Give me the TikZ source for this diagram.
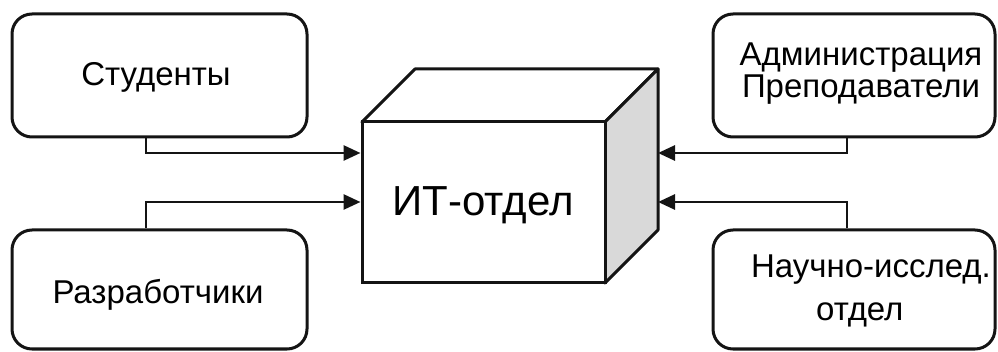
\documentclass[tikz,border=0pt]{standalone}
\usepackage{fontspec}
\setmainfont{Liberation Sans}
\usetikzlibrary{arrows.meta}
\definecolor{facegray}{RGB}{217,217,217}
\definecolor{ink}{RGB}{20,20,20}
\begin{document}
\begin{tikzpicture}[x=1pt,y=-1pt,
  outerbox/.style={draw=ink, line width=3pt, rounded corners=20pt, fill=white, inner sep=0pt},
  boxtext/.style={font=\fontsize{33}{32}\selectfont, inner sep=0pt},
  cubeline/.style={draw=ink, line width=3pt, line join=round},
  conn/.style={draw=ink, line width=2.8pt, -{Triangle[length=17pt,width=15pt]}}]
\useasboundingbox (0,0) rectangle (998,352);
\fill[white] (0,0) rectangle (998,352);
% outer boxes
\node[outerbox, minimum width=295pt, minimum height=123pt] (stud) at (159.5,75.5) {};
\node[boxtext] (studt) at (156,77) {Студенты};
\node[outerbox, minimum width=295pt, minimum height=119pt] (razr) at (159.5,289.5) {};
\node[boxtext] (razrt) at (158,295) {Разработчики};
\node[outerbox, minimum width=282pt, minimum height=123pt] (adm) at (854,75.5) {};
\node[boxtext, align=center] (admt) at (861,74) {Администрация\\Преподаватели};
\node[outerbox, minimum width=282pt, minimum height=119pt] (nauch) at (854,289.5) {};
\node[boxtext, font=\fontsize{33}{43}\selectfont, align=left] (naucht) at (871,291) {Научно-исслед.\\\hspace*{65pt}отдел};
% cube
\coordinate (fl) at (362,122);
\coordinate (fr) at (605,122);
\coordinate (br) at (605,283);
\coordinate (bl) at (362,283);
\coordinate (tbl) at (415,69);
\coordinate (tbr) at (658,69);
\coordinate (bbr) at (658,230);
\filldraw[cubeline, fill=white] (fl) -- (tbl) -- (tbr) -- (fr) -- cycle;
\filldraw[cubeline, fill=facegray] (fr) -- (tbr) -- (bbr) -- (br) -- cycle;
\node[draw=ink, line width=3pt, fill=white, minimum width=243pt, minimum height=161pt, inner sep=0pt] (it) at (483.5,202.5) {};
\node[font=\fontsize{42}{45}\selectfont] (itt) at (483,205) {ИТ-отдел};
% connector bends
\coordinate (a1) at (146,153);
\coordinate (a2) at (146,202);
\coordinate (a3) at (847,153);
\coordinate (a4) at (847,202);
\coordinate (rf) at (658,150);
\draw[conn] (stud.south -| a1) -- (a1) -- (a1 -| it.west);
\draw[conn] (razr.north -| a2) -- (a2) -- (a2 -| it.west);
\draw[conn] (adm.south -| a3) -- (a3) -- (a3 -| rf);
\draw[conn] (nauch.north -| a4) -- (a4) -- (a4 -| rf);
\end{tikzpicture}
\end{document}
